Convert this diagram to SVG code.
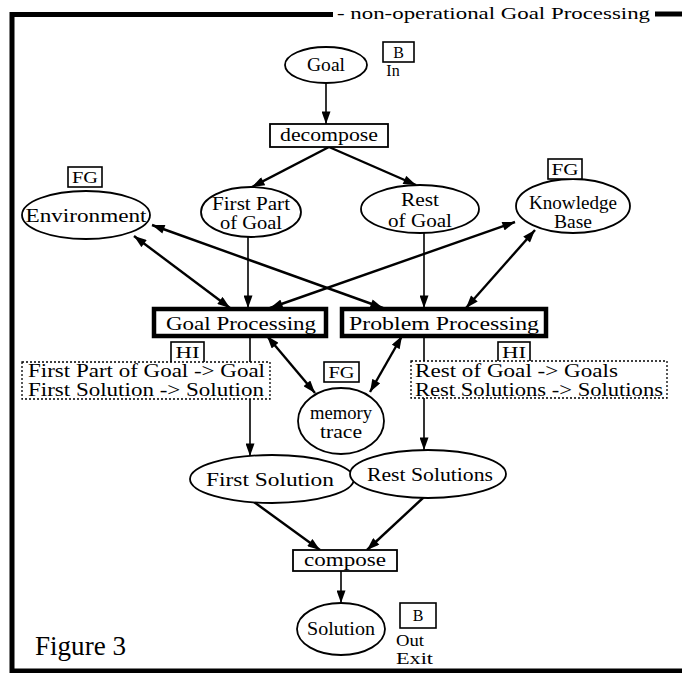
<svg xmlns="http://www.w3.org/2000/svg" width="682" height="673" viewBox="0 0 682 673">
  <defs>
    <marker id="ah" viewBox="0 0 14 10" refX="14" refY="5" markerWidth="14" markerHeight="9" markerUnits="userSpaceOnUse" orient="auto-start-reverse">
      <path d="M0,0 L14,5 L0,10 Z" fill="#000"/>
    </marker>
    <style>
      text { font-family: "Liberation Serif", "Times New Roman", serif; fill: #000; }
      .lbl { font-size: 19px; text-anchor: middle; }
      .tag { font-size: 16px; text-anchor: middle; }
      .node ellipse, .node rect { fill: #fff; stroke: #000; stroke-width: 1.8; }
      .proc rect { fill: #fff; stroke: #000; stroke-width: 4.5; }
      .node rect.tagbox, .proc rect.tagbox { fill: #fff; stroke: #000; stroke-width: 1.6; }
      .note rect { fill: #fff; stroke: #000; stroke-width: 1.3; stroke-dasharray: 2 2; }
      .note text { font-size: 19px; }
      .frame { fill: none; stroke: #000; stroke-width: 5; }
      #connectors line { stroke: #000; stroke-width: 1.6; fill: none; }
      #connectors .one { marker-end: url(#ah); }
      #connectors .thick { stroke-width: 2.4; }
      #connectors .two { marker-start: url(#ah); marker-end: url(#ah); stroke-width: 2.4; }
    </style>
  </defs>

  <rect width="682" height="673" fill="#fff"/>

  <!-- outer frame with caption set into the top edge -->
  <g id="frame">
    <path class="frame" d="M333,14.5 H12 V671 H682"/>
    <path class="frame" d="M655,14 H682"/>
    <text x="337" y="19" font-size="17" textLength="313" lengthAdjust="spacingAndGlyphs">- non-operational Goal Processing</text>
    <text x="35" y="655" font-size="27" textLength="91" lengthAdjust="spacingAndGlyphs">Figure 3</text>
  </g>

  <!-- connectors, drawn beneath the nodes -->
  <g id="connectors">
    <line class="one" x1="326" y1="83" x2="326" y2="124"/>
    <line class="one thick" x1="329" y1="147" x2="252" y2="187"/>
    <line class="one thick" x1="329" y1="147" x2="416" y2="185"/>
    <line class="one" x1="248" y1="237" x2="248" y2="308"/>
    <line class="one" x1="424" y1="233" x2="424" y2="308"/>
    <line class="two" x1="134" y1="236" x2="230" y2="308"/>
    <line class="two" x1="152" y1="225" x2="383" y2="308"/>
    <line class="two" x1="515" y1="222" x2="270" y2="308"/>
    <line class="two" x1="535" y1="230" x2="466" y2="308"/>
    <line class="two" x1="267" y1="336" x2="315" y2="393"/>
    <line class="two" x1="402" y1="336" x2="370" y2="392"/>
    <line class="one" x1="250" y1="336" x2="250" y2="456"/>
    <line class="one" x1="424" y1="336" x2="424" y2="450"/>
    <line class="one thick" x1="254" y1="502" x2="320" y2="550"/>
    <line class="one thick" x1="424" y1="497" x2="367" y2="550"/>
    <line class="one" x1="341" y1="571" x2="341" y2="603"/>
  </g>

  <g id="goal" class="node">
    <ellipse cx="326" cy="65" rx="41" ry="18"/>
    <text class="lbl" x="326" y="71" textLength="38" lengthAdjust="spacingAndGlyphs">Goal</text>
    <rect class="tagbox" x="383" y="42" width="31" height="20"/>
    <text class="tag" x="398.5" y="58">B</text>
    <text class="tag" x="393" y="76">In</text>
  </g>

  <g id="decompose" class="node">
    <rect x="270" y="124" width="118" height="23"/>
    <text class="lbl" x="329" y="141" textLength="98" lengthAdjust="spacingAndGlyphs">decompose</text>
  </g>

  <g id="first-part" class="node">
    <ellipse cx="251" cy="212" rx="50" ry="25"/>
    <text class="lbl" x="251" y="210" textLength="78" lengthAdjust="spacingAndGlyphs">First Part</text>
    <text class="lbl" x="251" y="229" textLength="62" lengthAdjust="spacingAndGlyphs">of Goal</text>
  </g>

  <g id="rest-of-goal" class="node">
    <ellipse cx="420" cy="209" rx="59" ry="24"/>
    <text class="lbl" x="420" y="206" textLength="38" lengthAdjust="spacingAndGlyphs">Rest</text>
    <text class="lbl" x="420" y="227" textLength="64" lengthAdjust="spacingAndGlyphs">of Goal</text>
  </g>

  <g id="environment" class="node">
    <ellipse cx="86" cy="215" rx="64" ry="24"/>
    <text class="lbl" x="86" y="222" textLength="121" lengthAdjust="spacingAndGlyphs">Environment</text>
    <rect class="tagbox" x="68" y="167" width="34" height="20"/>
    <text class="tag" x="85" y="183" textLength="26" lengthAdjust="spacingAndGlyphs">FG</text>
  </g>

  <g id="knowledge-base" class="node">
    <ellipse cx="573" cy="206" rx="57" ry="27"/>
    <text class="lbl" x="573" y="209" textLength="88" lengthAdjust="spacingAndGlyphs">Knowledge</text>
    <text class="lbl" x="573" y="228" textLength="38" lengthAdjust="spacingAndGlyphs">Base</text>
    <rect class="tagbox" x="548" y="159" width="34" height="20"/>
    <text class="tag" x="565" y="175" textLength="27" lengthAdjust="spacingAndGlyphs">FG</text>
  </g>

  <g id="goal-processing" class="proc">
    <rect x="154" y="309" width="172" height="27"/>
    <text class="lbl" x="241" y="330" textLength="150" lengthAdjust="spacingAndGlyphs">Goal Processing</text>
    <rect class="tagbox" x="171" y="342" width="33" height="21"/>
    <text class="tag" x="187.5" y="358" textLength="24" lengthAdjust="spacingAndGlyphs">HI</text>
  </g>

  <g id="problem-processing" class="proc">
    <rect x="342" y="309" width="204" height="27"/>
    <text class="lbl" x="444" y="330" textLength="190" lengthAdjust="spacingAndGlyphs">Problem Processing</text>
    <rect class="tagbox" x="498" y="342" width="32" height="21"/>
    <text class="tag" x="514" y="358" textLength="24" lengthAdjust="spacingAndGlyphs">HI</text>
  </g>

  <g id="note-left" class="note">
    <rect x="22" y="362" width="248" height="37"/>
    <text x="28" y="377" textLength="237" lengthAdjust="spacingAndGlyphs">First Part of Goal -&gt; Goal</text>
    <text x="28" y="396" textLength="236" lengthAdjust="spacingAndGlyphs">First Solution -&gt; Solution</text>
  </g>

  <g id="note-right" class="note">
    <rect x="411" y="361" width="256" height="37"/>
    <text x="415" y="377" textLength="203" lengthAdjust="spacingAndGlyphs">Rest of Goal -&gt; Goals</text>
    <text x="415" y="396" textLength="248" lengthAdjust="spacingAndGlyphs">Rest Solutions -&gt; Solutions</text>
  </g>

  <g id="memory-trace" class="node">
    <ellipse cx="341" cy="421" rx="43" ry="33"/>
    <text class="lbl" x="341" y="419" textLength="62" lengthAdjust="spacingAndGlyphs">memory</text>
    <text class="lbl" x="341" y="438" textLength="42" lengthAdjust="spacingAndGlyphs">trace</text>
    <rect class="tagbox" x="324" y="362" width="35" height="20"/>
    <text class="tag" x="341.5" y="378" textLength="26" lengthAdjust="spacingAndGlyphs">FG</text>
  </g>

  <g id="first-solution" class="node">
    <ellipse cx="272" cy="479" rx="82" ry="24"/>
    <text class="lbl" x="270" y="486" textLength="128" lengthAdjust="spacingAndGlyphs">First Solution</text>
  </g>

  <g id="rest-solutions" class="node">
    <ellipse cx="428" cy="474" rx="78" ry="24"/>
    <text class="lbl" x="430" y="481" textLength="126" lengthAdjust="spacingAndGlyphs">Rest Solutions</text>
  </g>

  <g id="compose" class="node">
    <rect x="293" y="550" width="104" height="21"/>
    <text class="lbl" x="345" y="566" textLength="82" lengthAdjust="spacingAndGlyphs">compose</text>
  </g>

  <g id="solution" class="node">
    <ellipse cx="341" cy="629" rx="44" ry="26"/>
    <text class="lbl" x="341" y="635" textLength="68" lengthAdjust="spacingAndGlyphs">Solution</text>
    <rect class="tagbox" x="400" y="603" width="36" height="25"/>
    <text class="tag" x="418" y="621">B</text>
    <text class="tag" x="410" y="646" textLength="28" lengthAdjust="spacingAndGlyphs">Out</text>
    <text class="tag" x="414.5" y="664" textLength="37" lengthAdjust="spacingAndGlyphs">Exit</text>
  </g>
</svg>
